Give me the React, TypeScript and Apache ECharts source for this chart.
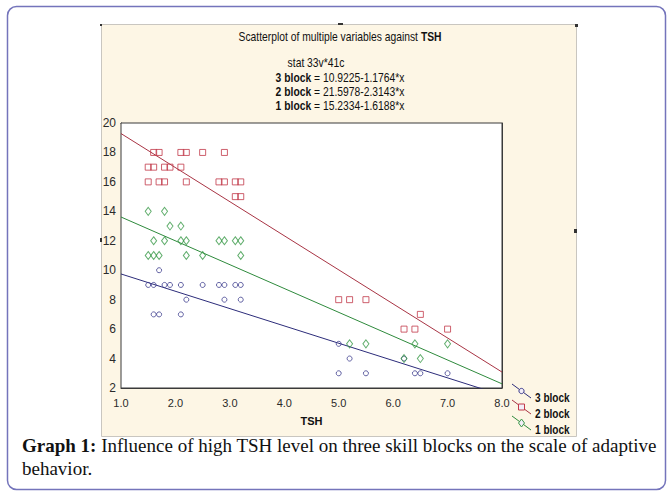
import React, { useEffect, useRef } from "react";
import * as echarts from "echarts";

const SANS = '"Liberation Sans", Arial, sans-serif';
const SERIF = '"Liberation Serif", "Times New Roman", serif';

const seriesNames = ["3 block", "2 block", "1 block"];
const seriesColors = ["#3b3b8c", "#c23a4a", "#3a9a48"];
const lineColors = ["#2c2c7a", "#a83444", "#2e8a3c"];
const seriesSymbols = ["circle", "rect", "diamond"];
const symbolSizes = [5, 6, [6, 8]];

// intercept, slope  (y = a - b*x)
const intercepts = [10.9225, 21.5978, 15.2334];
const slopes = [1.1764, 2.3143, 1.6188];

const block3Points: [number, number][] = [
  [1.5, 9], [1.6, 9], [1.8, 9], [1.9, 9], [2.1, 9], [2.5, 9], [2.8, 9], [2.9, 9], [3.1, 9], [3.2, 9],
  [1.7, 10], [2.2, 8], [2.9, 8], [3.2, 8], [1.6, 7], [1.7, 7], [2.1, 7],
  [5.0, 5], [5.0, 3], [5.2, 4], [5.5, 3], [6.2, 4], [6.4, 3], [6.5, 3], [7.0, 3],
];
const block2Points: [number, number][] = [
  [1.6, 18], [1.7, 18], [2.1, 18], [2.2, 18], [2.5, 18], [2.9, 18],
  [1.5, 17], [1.6, 17], [1.8, 17], [1.9, 17], [2.1, 17],
  [1.5, 16], [1.7, 16], [1.8, 16], [2.2, 16], [2.8, 16], [2.9, 16], [3.1, 16], [3.2, 16],
  [3.1, 15], [3.2, 15],
  [5.0, 8], [5.2, 8], [5.5, 8], [6.2, 6], [6.4, 6], [6.5, 7], [7.0, 6],
];
const block1Points: [number, number][] = [
  [1.5, 14], [1.8, 14], [1.9, 13], [2.1, 13],
  [1.6, 12], [1.8, 12], [2.1, 12], [2.2, 12], [2.8, 12], [2.9, 12], [3.1, 12], [3.2, 12],
  [1.5, 11], [1.6, 11], [1.7, 11], [2.2, 11], [2.5, 11], [3.2, 11],
  [5.2, 5], [5.5, 5], [6.2, 4], [6.4, 5], [6.5, 4], [7.0, 5],
];
const allPoints = [block3Points, block2Points, block1Points];

const xMin = 1, xMax = 8, xStep = 1;
const yMin = 2, yMax = 20, yStep = 2;

const titleLine = "Scatterplot of multiple variables against ";
const statLine = "stat 33v*41c";
const captionBold = "Graph 1:";
const captionLine1 = " Influence of high TSH level on three skill blocks on the scale of adaptive";
const captionLine2 = "behavior.";

export default function App() {
  const ref = useRef<HTMLDivElement>(null);
  useEffect(() => {
    if (!ref.current) return;
    const chart = echarts.init(ref.current, undefined, { renderer: "svg" });
    const axisColor = "#3a3a3a";
    const labelStyle = { color: "#2a2a2a", fontSize: 11, fontFamily: SANS };
    const txt = 12;
    const sx = 0.86;

    const scatterSeries = allPoints.map((pts, i) => ({
      type: "scatter",
      name: seriesNames[i],
      data: pts,
      symbol: seriesSymbols[i],
      symbolSize: symbolSizes[i],
      itemStyle: { color: "rgba(0,0,0,0)", borderColor: seriesColors[i], borderWidth: 1 },
      z: 3,
    }));
    const lineSeries = intercepts.map((a, i) => ({
      type: "line",
      name: seriesNames[i] + " fit",
      data: [[xMin, a - slopes[i] * xMin], [xMax, a - slopes[i] * xMax]],
      symbol: "none",
      clip: true,
      lineStyle: { color: lineColors[i], width: 1 },
      z: 2,
    }));

    const eqY = [78, 92, 106];
    const eqTexts = seriesNames.map((n, i) => ({
      type: "text",
      x: 340,
      y: eqY[i],
      scaleX: sx,
      z: 100,
      style: {
        text: `{b|${n}}{n| = ${intercepts[i]}-${slopes[i]}*x}`,
        align: "center",
        verticalAlign: "middle",
        rich: {
          b: { fontFamily: SANS, fontSize: txt, fontWeight: "bold", fill: "#111" },
          n: { fontFamily: SANS, fontSize: txt, fill: "#111" },
        },
      },
    }));

    const legendY = [391, 407, 423];
    const legendItems: any[] = [];
    seriesNames.forEach((n, i) => {
      const cy = legendY[i];
      legendItems.push({
        type: "line",
        z: 100,
        shape: { x1: 512, y1: cy - 7, x2: 531, y2: cy + 7 },
        style: { stroke: lineColors[i], lineWidth: 1 },
      });
      const mk =
        i === 0
          ? { type: "circle", shape: { cx: 521.5, cy, r: 2.6 } }
          : i === 1
          ? { type: "rect", shape: { x: 518.5, y: cy - 3, width: 6, height: 6 } }
          : { type: "polygon", shape: { points: [[521.5, cy - 4], [524.5, cy], [521.5, cy + 4], [518.5, cy]] } };
      legendItems.push({ ...mk, z: 101, style: { fill: "#f3eef8", stroke: seriesColors[i], lineWidth: 1 } });
      legendItems.push({
        type: "text",
        x: 535,
        y: cy + 7,
        scaleX: 0.84,
        z: 100,
        style: { text: n, fontFamily: SANS, fontSize: 12, fontWeight: "bold", fill: "#111", verticalAlign: "middle" },
      });
    });

    const handles = [
      [100, 24, 2, 2], [338, 23, 5, 2], [575, 24, 3, 3], [574, 229, 3, 4], [100, 238, 2, 4],
    ].map(([x, y, w, h]) => ({
      type: "rect",
      z: 100,
      shape: { x, y, width: w, height: h },
      style: { fill: "#333" },
    }));

    chart.setOption({
      animation: false,
      backgroundColor: "#ffffff",
      grid: {
        left: 121, right: 166, top: 123, bottom: 105,
        show: true, backgroundColor: "#ffffff", borderColor: axisColor, borderWidth: 1, z: 1,
      },
      xAxis: [
        {
          type: "value", min: xMin, max: xMax, interval: xStep, position: "bottom",
          axisLine: { show: true, lineStyle: { color: axisColor } },
          axisTick: { show: true, inside: true, length: 5, lineStyle: { color: axisColor } },
          minorTick: { show: true, splitNumber: 4, length: 3, lineStyle: { color: axisColor } },
          axisLabel: { ...labelStyle, margin: 9, formatter: (v: number) => v.toFixed(1) },
          splitLine: { show: true, lineStyle: { color: "#cdcdcd", width: 1 } },
          name: "TSH", nameLocation: "middle", nameGap: 27,
          nameTextStyle: { fontFamily: SANS, fontSize: 11, fontWeight: "bold", color: "#111" },
        },
        {
          type: "value", min: xMin, max: xMax, interval: xStep, position: "top",
          axisLine: { show: true, lineStyle: { color: axisColor } },
          axisTick: { show: true, inside: true, length: 5, lineStyle: { color: axisColor } },
          minorTick: { show: true, splitNumber: 4, length: 3, lineStyle: { color: axisColor } },
          axisLabel: { show: false },
          splitLine: { show: false },
        },
      ],
      yAxis: [
        {
          type: "value", min: yMin, max: yMax, interval: yStep, position: "left",
          axisLine: { show: true, lineStyle: { color: axisColor } },
          axisTick: { show: true, inside: true, length: 5, lineStyle: { color: axisColor } },
          axisLabel: { ...labelStyle, fontSize: 12, margin: 5 },
          splitLine: { show: true, lineStyle: { color: "#cdcdcd", width: 1 } },
        },
        {
          type: "value", min: yMin, max: yMax, interval: yStep, position: "right",
          axisLine: { show: true, lineStyle: { color: axisColor } },
          axisTick: { show: true, inside: true, length: 5, lineStyle: { color: axisColor } },
          axisLabel: { show: false },
          splitLine: { show: false },
        },
      ],
      series: [...lineSeries, ...scatterSeries],
      graphic: [
        {
          type: "rect", z: -10, silent: true,
          shape: { x: 7.5, y: 6.5, width: 658, height: 483, r: 9 },
          style: { fill: "#ffffff", stroke: "#7474bb", lineWidth: 1.5 },
        },
        {
          type: "rect", z: -5, silent: true,
          shape: { x: 101.5, y: 24.5, width: 475, height: 412 },
          style: { fill: "#fdf6e5", stroke: "#c9c6c0", lineWidth: 1 },
        },
        ...handles,
        {
          type: "text", x: 340, y: 37, scaleX: sx, z: 100,
          style: {
            text: `{n|${titleLine}}{b|TSH}`,
            align: "center", verticalAlign: "middle",
            rich: {
              b: { fontFamily: SANS, fontSize: txt, fontWeight: "bold", fill: "#111" },
              n: { fontFamily: SANS, fontSize: txt, fill: "#111" },
            },
          },
        },
        {
          type: "text", x: 316, y: 63, scaleX: sx, z: 100,
          style: { text: statLine, fontFamily: SANS, fontSize: txt, fill: "#111", align: "center", verticalAlign: "middle" },
        },
        ...eqTexts,
        ...legendItems,
        {
          type: "text", x: 22, y: 445, z: 100,
          style: {
            text: `{b|${captionBold}}{n|${captionLine1}}`,
            verticalAlign: "middle",
            rich: {
              b: { fontFamily: SERIF, fontSize: 19, fontWeight: "bold", fill: "#111" },
              n: { fontFamily: SERIF, fontSize: 19, fill: "#111" },
            },
          },
        },
        {
          type: "text", x: 22, y: 468, z: 100,
          style: { text: captionLine2, fontFamily: SERIF, fontSize: 19, fill: "#111", verticalAlign: "middle" },
        },
      ],
    });
    return () => chart.dispose();
  }, []);
  return <div ref={ref} style={{ position: "absolute", left: 0, top: 0, width: 668, height: 493 }} />;
}
